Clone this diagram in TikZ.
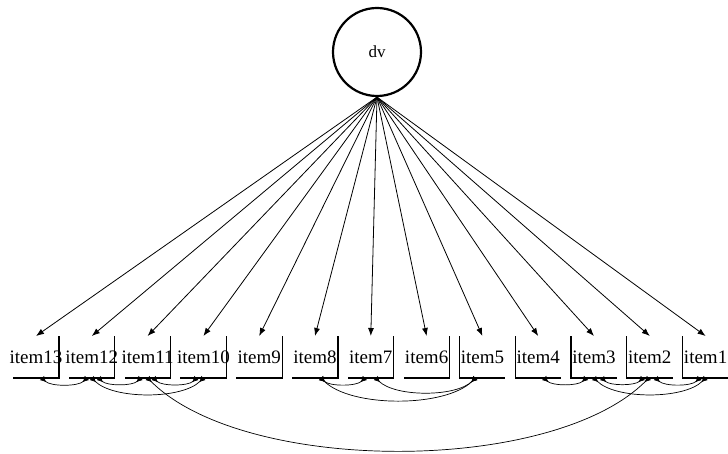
\documentclass[tikz,border=0pt]{standalone}
\usepackage{fontspec}
\setmainfont{Liberation Serif}
\usetikzlibrary{arrows.meta}
\begin{document}
\begin{tikzpicture}[x=1pt,y=1pt,
  itembox/.style={minimum width=46pt,minimum height=42pt,inner sep=0pt,outer sep=0pt},
  lab/.style={font=\fontsize{19}{23}\selectfont,inner sep=0pt},
  edgeline/.style={line width=1.1pt},
  load/.style={line width=0.8pt,-{Latex[length=8pt,width=6pt]}},
  cov/.style={line width=0.7pt,{Latex[reversed,length=6pt,width=6pt]}-{Latex[reversed,length=6pt,width=6pt]},out=-45,in=-135,looseness=0.7}]
\useasboundingbox (0,0) rectangle (728,453);
\node[circle,draw,line width=2.2pt,minimum size=88pt,inner sep=0pt,font=\fontsize{17}{20}\selectfont] (dv) at (377,401) {dv};
\foreach \n [count=\i from 0] in {13,12,...,1} {
  \node[itembox] (i\n) at ({36+55.8*\i},96) {};
  \node[lab] at (i\n) {item\n};
}
\foreach \n in {1,...,13} \draw[load] (dv.south) -- (i\n.north);
\foreach \n in {13,12,...,6} \draw[edgeline] (i\n.north east) -- (i\n.south east) -- (i\n.south west);
\foreach \n in {5,4,...,1} \draw[edgeline] (i\n.north west) -- (i\n.south west) -- (i\n.south east);
\draw[cov] ([xshift=6pt]i13.south) to ([xshift=-5pt]i12.south);
\draw[cov] ([xshift=7pt]i12.south) to ([xshift=-7pt]i11.south);
\draw[cov] ([xshift=6pt]i11.south) to ([xshift=-7pt]i10.south);
\draw[cov] (i12.south) to (i10.south);
\draw[cov] (i11.south) to ([xshift=-1pt]i2.south);
\draw[cov] ([xshift=6pt]i8.south) to ([xshift=-6pt]i7.south);
\draw[cov] ([xshift=5pt]i7.south) to ([xshift=-7pt]i5.south);
\draw[cov] ([xshift=6pt]i8.south) to ([xshift=-7pt]i5.south);
\draw[cov] ([xshift=6pt]i4.south) to ([xshift=-8pt]i3.south);
\draw[cov] ([xshift=8pt]i3.south) to ([xshift=-7pt]i2.south);
\draw[cov] ([xshift=6pt]i2.south) to ([xshift=-6pt]i1.south);
\draw[cov] (i3.south) to (i1.south);
\end{tikzpicture}
\end{document}
